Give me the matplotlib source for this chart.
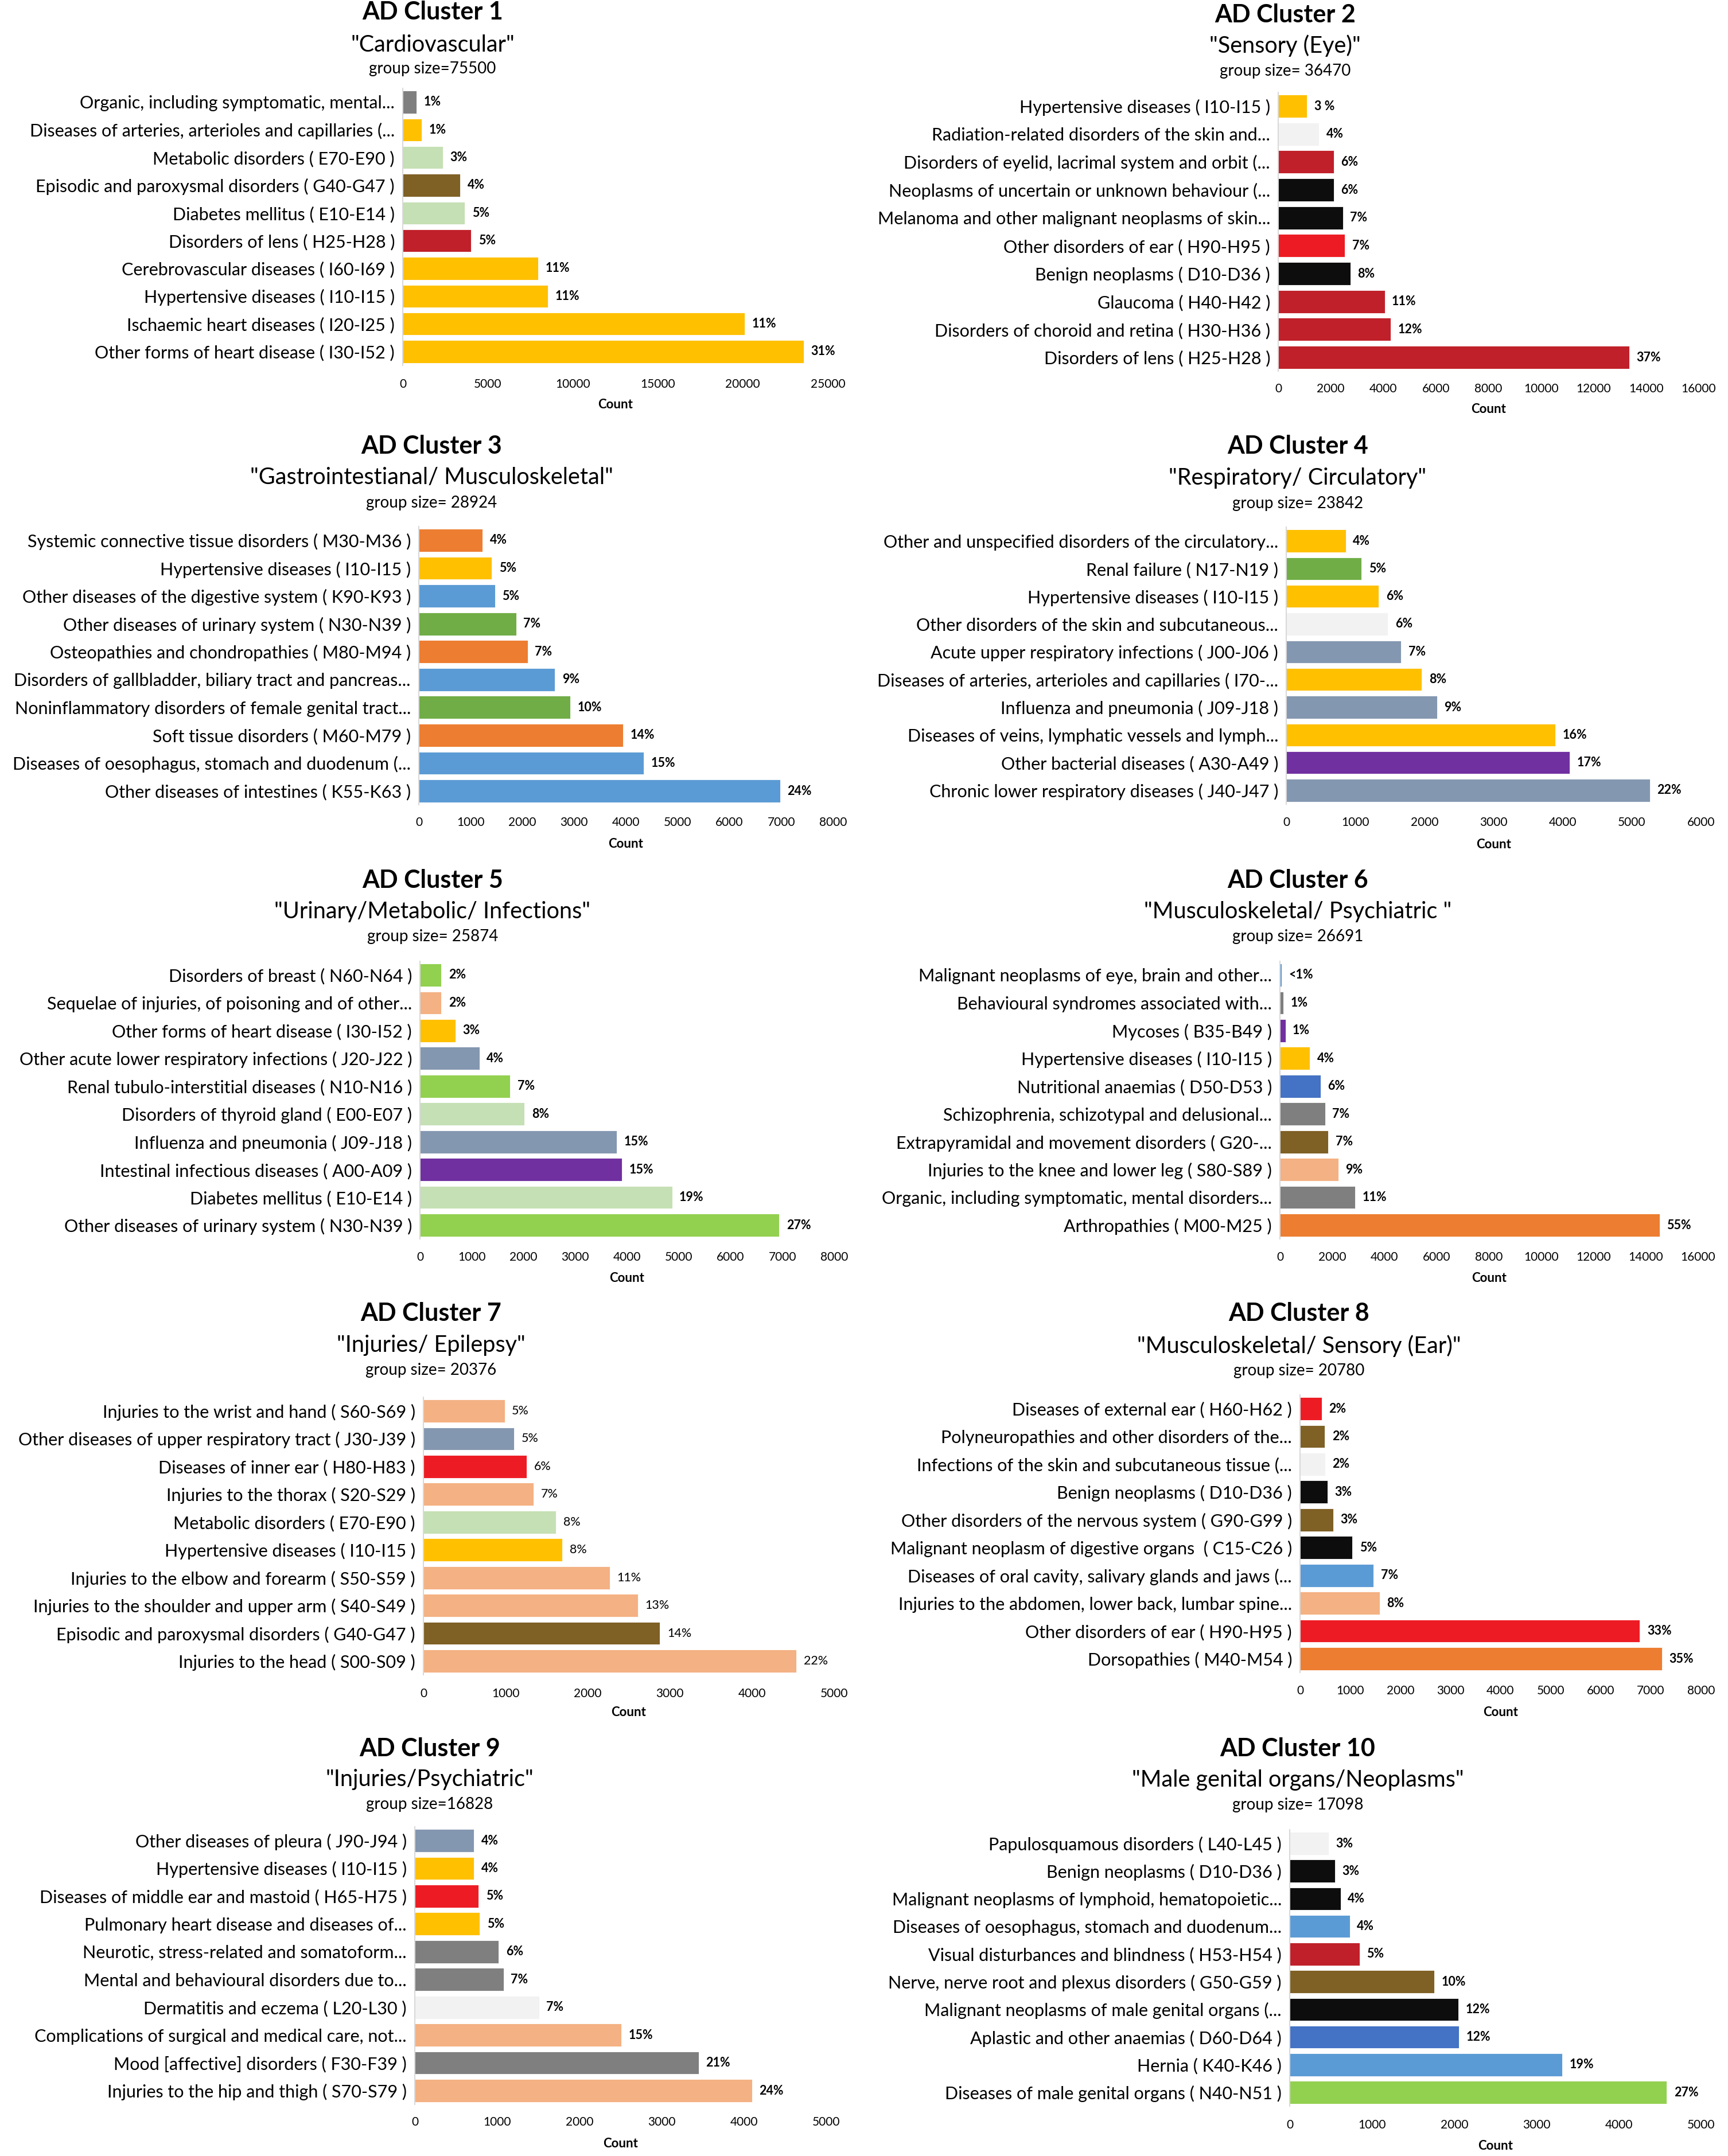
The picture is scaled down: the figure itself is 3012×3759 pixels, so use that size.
import matplotlib.pyplot as plt

plt.rcParams['font.family'] = ['Lato', 'DejaVu Sans']

# colours used in the original (Excel-like palette)
GOLD = '#FFC000'
GRAY = '#7F7F7F'
LGREEN = '#C5E0B4'
BROWN = '#7F6025'
DRED = '#C0202A'
RED = '#ED1C24'
BLACK = '#0D0D0D'
LGRAY = '#F2F2F2'
ORANGE = '#ED7D31'
BLUE = '#5B9BD5'
GREEN = '#70AD47'
BGREEN = '#92D050'
BGRAY = '#8497B0'
PURPLE = '#7030A0'
SALMON = '#F4B183'
DBLUE = '#4472C4'

# ---- data -------------------------------------------------------------
titles = ['AD Cluster %d' % i for i in range(1, 11)]
subtitles = ['"Cardiovascular"', '"Sensory (Eye)"',
             '"Gastrointestianal/ Musculoskeletal"', '"Respiratory/ Circulatory"',
             '"Urinary/Metabolic/ Infections"', '"Musculoskeletal/ Psychiatric "',
             '"Injuries/ Epilepsy"', '"Musculoskeletal/ Sensory (Ear)"',
             '"Injuries/Psychiatric"', '"Male genital organs/Neoplasms"']
group_sizes = ['group size=75500', 'group size= 36470', 'group size= 28924',
               'group size= 23842', 'group size= 25874', 'group size= 26691',
               'group size= 20376', 'group size= 20780', 'group size=16828',
               'group size= 17098']
xmax = [25000, 16000, 8000, 6000, 8000, 16000, 5000, 8000, 5000, 5000]
xstep = [5000, 2000, 1000, 1000, 1000, 2000, 1000, 1000, 1000, 1000]

labels_1 = ['Organic, including symptomatic, mental...',
            'Diseases of arteries, arterioles and capillaries (...',
            'Metabolic disorders ( E70-E90 )',
            'Episodic and paroxysmal disorders ( G40-G47 )',
            'Diabetes mellitus ( E10-E14 )',
            'Disorders of lens ( H25-H28 )',
            'Cerebrovascular diseases ( I60-I69 )',
            'Hypertensive diseases ( I10-I15 )',
            'Ischaemic heart diseases ( I20-I25 )',
            'Other forms of heart disease ( I30-I52 )']
counts_1 = [800, 1130, 2350, 3390, 3650, 4030, 7970, 8550, 20100, 23580]
pcts_1 = ['1%', '1%', '3%', '4%', '5%', '5%', '11%', '11%', '11%', '31%']
colors_1 = [GRAY, GOLD, LGREEN, BROWN, LGREEN, DRED, GOLD, GOLD, GOLD, GOLD]

labels_2 = ['Hypertensive diseases ( I10-I15 )',
            'Radiation-related disorders of the skin and...',
            'Disorders of eyelid, lacrimal system and orbit (...',
            'Neoplasms of uncertain or unknown behaviour (...',
            'Melanoma and other malignant neoplasms of skin...',
            'Other disorders of ear ( H90-H95 )',
            'Benign neoplasms ( D10-D36 )',
            'Glaucoma ( H40-H42 )',
            'Disorders of choroid and retina ( H30-H36 )',
            'Disorders of lens ( H25-H28 )']
counts_2 = [1100, 1550, 2120, 2120, 2460, 2540, 2750, 4050, 4280, 13350]
pcts_2 = ['3 %', '4%', '6%', '6%', '7%', '7%', '8%', '11%', '12%', '37%']
colors_2 = [GOLD, LGRAY, DRED, BLACK, BLACK, RED, BLACK, DRED, DRED, DRED]

labels_3 = ['Systemic connective tissue disorders ( M30-M36 )',
            'Hypertensive diseases ( I10-I15 )',
            'Other diseases of the digestive system ( K90-K93 )',
            'Other diseases of urinary system ( N30-N39 )',
            'Osteopathies and chondropathies ( M80-M94 )',
            'Disorders of gallbladder, biliary tract and pancreas...',
            'Noninflammatory disorders of female genital tract...',
            'Soft tissue disorders ( M60-M79 )',
            'Diseases of oesophagus, stomach and duodenum (...',
            'Other diseases of intestines ( K55-K63 )']
counts_3 = [1230, 1410, 1470, 1880, 2100, 2630, 2930, 3950, 4340, 6980]
pcts_3 = ['4%', '5%', '5%', '7%', '7%', '9%', '10%', '14%', '15%', '24%']
colors_3 = [ORANGE, GOLD, BLUE, GREEN, ORANGE, BLUE, GREEN, ORANGE, BLUE, BLUE]

labels_4 = ['Other and unspecified disorders of the circulatory...',
            'Renal failure ( N17-N19 )',
            'Hypertensive diseases ( I10-I15 )',
            'Other disorders of the skin and subcutaneous...',
            'Acute upper respiratory infections ( J00-J06 )',
            'Diseases of arteries, arterioles and capillaries ( I70-...',
            'Influenza and pneumonia ( J09-J18 )',
            'Diseases of veins, lymphatic vessels and lymph...',
            'Other bacterial diseases ( A30-A49 )',
            'Chronic lower respiratory diseases ( J40-J47 )']
counts_4 = [860, 1090, 1340, 1470, 1660, 1960, 2180, 3890, 4100, 5260]
pcts_4 = ['4%', '5%', '6%', '6%', '7%', '8%', '9%', '16%', '17%', '22%']
colors_4 = [GOLD, GREEN, GOLD, LGRAY, BGRAY, GOLD, BGRAY, GOLD, PURPLE, BGRAY]

labels_5 = ['Disorders of breast ( N60-N64 )',
            'Sequelae of injuries, of poisoning and of other...',
            'Other forms of heart disease ( I30-I52 )',
            'Other acute lower respiratory infections ( J20-J22 )',
            'Renal tubulo-interstitial diseases ( N10-N16 )',
            'Disorders of thyroid gland ( E00-E07 )',
            'Influenza and pneumonia ( J09-J18 )',
            'Intestinal infectious diseases ( A00-A09 )',
            'Diabetes mellitus ( E10-E14 )',
            'Other diseases of urinary system ( N30-N39 )']
counts_5 = [415, 415, 690, 1150, 1740, 2020, 3800, 3900, 4870, 6940]
pcts_5 = ['2%', '2%', '3%', '4%', '7%', '8%', '15%', '15%', '19%', '27%']
colors_5 = [BGREEN, SALMON, GOLD, BGRAY, BGREEN, LGREEN, BGRAY, PURPLE, LGREEN, BGREEN]

labels_6 = ['Malignant neoplasms of eye, brain and other...',
            'Behavioural syndromes associated with...',
            'Mycoses ( B35-B49 )',
            'Hypertensive diseases ( I10-I15 )',
            'Nutritional anaemias ( D50-D53 )',
            'Schizophrenia, schizotypal and delusional...',
            'Extrapyramidal and movement disorders ( G20-...',
            'Injuries to the knee and lower leg ( S80-S89 )',
            'Organic, including symptomatic, mental disorders...',
            'Arthropathies ( M00-M25 )']
counts_6 = [60, 130, 210, 1140, 1560, 1730, 1850, 2230, 2880, 14530]
pcts_6 = ['<1%', '1%', '1%', '4%', '6%', '7%', '7%', '9%', '11%', '55%']
colors_6 = [BLUE, GRAY, PURPLE, GOLD, DBLUE, GRAY, BROWN, SALMON, GRAY, ORANGE]

labels_7 = ['Injuries to the wrist and hand ( S60-S69 )',
            'Other diseases of upper respiratory tract ( J30-J39 )',
            'Diseases of inner ear ( H80-H83 )',
            'Injuries to the thorax ( S20-S29 )',
            'Metabolic disorders ( E70-E90 )',
            'Hypertensive diseases ( I10-I15 )',
            'Injuries to the elbow and forearm ( S50-S59 )',
            'Injuries to the shoulder and upper arm ( S40-S49 )',
            'Episodic and paroxysmal disorders ( G40-G47 )',
            'Injuries to the head ( S00-S09 )']
counts_7 = [990, 1105, 1260, 1340, 1615, 1690, 2270, 2610, 2880, 4540]
pcts_7 = ['5%', '5%', '6%', '7%', '8%', '8%', '11%', '13%', '14%', '22%']
colors_7 = [SALMON, BGRAY, RED, SALMON, LGREEN, GOLD, SALMON, SALMON, BROWN, SALMON]

labels_8 = ['Diseases of external ear ( H60-H62 )',
            'Polyneuropathies and other disorders of the...',
            'Infections of the skin and subcutaneous tissue (...',
            'Benign neoplasms ( D10-D36 )',
            'Other disorders of the nervous system ( G90-G99 )',
            'Malignant neoplasm of digestive organs  ( C15-C26 )',
            'Diseases of oral cavity, salivary glands and jaws (...',
            'Injuries to the abdomen, lower back, lumbar spine...',
            'Other disorders of ear ( H90-H95 )',
            'Dorsopathies ( M40-M54 )']
counts_8 = [430, 495, 505, 550, 660, 1045, 1470, 1590, 6780, 7220]
pcts_8 = ['2%', '2%', '2%', '3%', '3%', '5%', '7%', '8%', '33%', '35%']
colors_8 = [RED, BROWN, LGRAY, BLACK, BROWN, BLACK, BLUE, SALMON, RED, ORANGE]

labels_9 = ['Other diseases of pleura ( J90-J94 )',
            'Hypertensive diseases ( I10-I15 )',
            'Diseases of middle ear and mastoid ( H65-H75 )',
            'Pulmonary heart disease and diseases of...',
            'Neurotic, stress-related and somatoform...',
            'Mental and behavioural disorders due to...',
            'Dermatitis and eczema ( L20-L30 )',
            'Complications of surgical and medical care, not...',
            'Mood [affective] disorders ( F30-F39 )',
            'Injuries to the hip and thigh ( S70-S79 )']
counts_9 = [720, 720, 775, 790, 1020, 1080, 1510, 2510, 3450, 4100]
pcts_9 = ['4%', '4%', '5%', '5%', '6%', '7%', '7%', '15%', '21%', '24%']
colors_9 = [BGRAY, GOLD, RED, GOLD, GRAY, GRAY, LGRAY, SALMON, GRAY, SALMON]

labels_10 = ['Papulosquamous disorders ( L40-L45 )',
             'Benign neoplasms ( D10-D36 )',
             'Malignant neoplasms of lymphoid, hematopoietic...',
             'Diseases of oesophagus, stomach and duodenum...',
             'Visual disturbances and blindness ( H53-H54 )',
             'Nerve, nerve root and plexus disorders ( G50-G59 )',
             'Malignant neoplasms of male genital organs (...',
             'Aplastic and other anaemias ( D60-D64 )',
             'Hernia ( K40-K46 )',
             'Diseases of male genital organs ( N40-N51 )']
counts_10 = [475, 550, 620, 730, 850, 1760, 2050, 2055, 3310, 4585]
pcts_10 = ['3%', '3%', '4%', '4%', '5%', '10%', '12%', '12%', '19%', '27%']
colors_10 = [LGRAY, BLACK, BLACK, BLUE, DRED, BROWN, BLACK, DBLUE, BLUE, BGREEN]

all_labels = [labels_1, labels_2, labels_3, labels_4, labels_5,
              labels_6, labels_7, labels_8, labels_9, labels_10]
all_counts = [counts_1, counts_2, counts_3, counts_4, counts_5,
              counts_6, counts_7, counts_8, counts_9, counts_10]
all_pcts = [pcts_1, pcts_2, pcts_3, pcts_4, pcts_5,
            pcts_6, pcts_7, pcts_8, pcts_9, pcts_10]
all_colors = [colors_1, colors_2, colors_3, colors_4, colors_5,
              colors_6, colors_7, colors_8, colors_9, colors_10]

# ---- layout in pixels ---------------------------------------------------
# x0, x1, first bar y, last bar y, title y, subtitle y, group y, tick y, count y, title x
layout = [
    (702, 1443, 178, 613, 21, 78, 120, 670, 706, 754),
    (2228, 2961, 185, 623, 26, 80, 124, 678, 714, 2240),
    (730, 1452, 942, 1379, 778, 832, 877, 1434, 1472, 752),
    (2242, 2965, 943, 1378, 778, 834, 878, 1434, 1472, 2262),
    (732, 1454, 1700, 2136, 1535, 1590, 1633, 2192, 2228, 754),
    (2231, 2960, 1700, 2136, 1535, 1590, 1633, 2192, 2228, 2262),
    (738, 1454, 2460, 2896, 2290, 2345, 2389, 2953, 2986, 751),
    (2266, 2965, 2456, 2892, 2290, 2347, 2390, 2948, 2985, 2264),
    (723, 1440, 3209, 3645, 3049, 3102, 3146, 3700, 3737, 749),
    (2248, 2965, 3214, 3648, 3049, 3103, 3147, 3705, 3741, 2262),
]

W, H = 3012, 3759
DPI = 100
PT = 72 / DPI  # points per pixel

fig = plt.figure(figsize=(W / DPI, H / DPI), dpi=DPI, facecolor='white')

LABEL_FS = 22
TICK_FS = 15
PCT_FS = 15.5

for i in range(10):
    x0, x1, yf, yl, ty, sy, gy, tky, cy, cx = layout[i]
    labels = all_labels[i]
    counts = all_counts[i]
    n = len(labels)
    sp = (yl - yf) / (n - 1)
    top = yf - sp / 2
    bot = yl + sp / 2
    ax = fig.add_axes([x0 / W, 1 - bot / H, (x1 - x0) / W, (bot - top) / H])
    ypos = list(range(n))
    ax.barh(ypos, counts, height=0.82, color=all_colors[i],
            edgecolor='white', linewidth=0.6)
    ax.set_ylim(n - 0.5, -0.5)
    ax.set_xlim(0, xmax[i])
    ax.set_yticks(ypos, labels)
    ax.set_xticks(range(0, xmax[i] + 1, xstep[i]))
    ax.tick_params(axis='y', length=0, pad=14 * PT, labelsize=LABEL_FS)
    ax.tick_params(axis='x', length=0, pad=(tky - bot - 10) * PT,
                   labelsize=TICK_FS)
    for s in ['top', 'right', 'bottom']:
        ax.spines[s].set_visible(False)
    ax.spines['left'].set_color('#D9D9D9')
    ax.spines['left'].set_linewidth(1.5)

    weight = 'normal' if i == 6 else 'bold'
    for yi, c, p in zip(ypos, counts, all_pcts[i]):
        ax.annotate(p, (c, yi), xytext=(9, 0), textcoords='offset points',
                    va='center', ha='left', fontsize=PCT_FS, fontweight=weight)

    ax.set_xlabel('Count', fontsize=16, fontweight='bold')
    ax.xaxis.label.set_va('center')
    ax.xaxis.set_label_coords(0.5, -(cy - bot) / (bot - top))

    fig.text(cx / W, 1 - ty / H, titles[i], ha='center', va='center',
             fontsize=31, fontweight='bold')
    fig.text(cx / W, 1 - sy / H, subtitles[i], ha='center', va='center',
             fontsize=28.5)
    fig.text(cx / W, 1 - gy / H, group_sizes[i], ha='center', va='center',
             fontsize=20)

fig.savefig('out.png', dpi=DPI, facecolor='white')
